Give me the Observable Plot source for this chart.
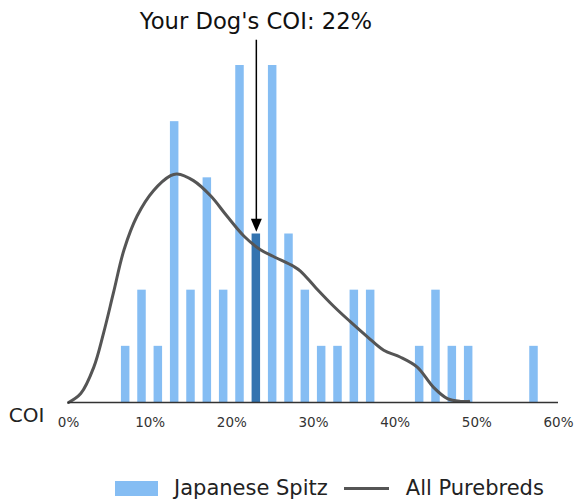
<!DOCTYPE html>
<html>
<head>
<meta charset="utf-8">
<script src="https://cdn.jsdelivr.net/npm/d3@7"></script>
<script src="https://cdn.jsdelivr.net/npm/@observablehq/plot@0.6"></script>
<style>
  body { margin: 0; background: #fff; font-family: "DejaVu Sans", sans-serif; }
  #wrap { position: relative; width: 579px; height: 502px; }
  #title { position: absolute; top: 10px; left: 256px; transform: translateX(-50%); font-size: 22.7px; line-height: 1; color: #111; white-space: nowrap; }
  #chart { position: absolute; top: 38px; left: 0; }
  #legend { position: absolute; top: 478px; left: 115px; display: flex; align-items: center; font-size: 21px; line-height: 1; color: #222; white-space: nowrap; }
  .sw { width: 43px; height: 15px; background: #85bdf3; margin-right: 16px; }
  .ln { width: 45px; height: 3px; background: #555; margin: 0 17px 0 16px; }
</style>
</head>
<body>
<div id="wrap">
  <div id="title">Your Dog's COI: 22%</div>
  <div id="chart"></div>
  <div id="legend"><div class="sw"></div><span>Japanese Spitz</span><div class="ln"></div><span>All Purebreds</span></div>
</div>
<script>
// Japanese Spitz histogram (bin centres in %, counts)
const binCenters = [7, 9, 11, 13, 15, 17, 19, 21, 23, 25, 27, 29, 31, 33, 35, 37, 43, 45, 47, 49, 57];
const binCounts  = [1, 2, 1, 5, 2, 4, 2, 6, 3, 6, 3, 2, 1, 1, 2, 2, 1, 2, 1, 1, 1];
const dogCOI = 22;
const dogBin = 23;
// All purebreds density curve (scaled to the count axis)
const curveX = [0, 1.5, 3.1, 4.3, 5.5, 6.8, 8.4, 10.4, 12.5, 13.3, 15.3, 17.4, 19.4, 21.5, 23.5, 25.1, 27.6, 28.4, 30.3, 32.5, 34.5, 36.6, 38.6, 40.6, 42.7, 44.7, 46.4, 48, 49];
const curveY = [0, 0.16, 0.63, 1.24, 1.95, 2.72, 3.32, 3.77, 4.04, 4.07, 3.95, 3.68, 3.32, 2.96, 2.72, 2.60, 2.42, 2.34, 2.04, 1.71, 1.44, 1.17, 0.93, 0.81, 0.63, 0.27, 0.07, 0.02, 0.02];
const xTicks = [0, 10, 20, 30, 40, 50, 60];

const binW = 0.52;
const bars = binCenters.map((c, i) => ({x1: c - binW, x2: c + binW, y: binCounts[i], dog: c === dogBin}));
const curve = curveX.map((x, i) => ({x, y: curveY[i]}));

const arrowHead = {
  draw(ctx) { ctx.moveTo(-5.5, -13); ctx.lineTo(5.5, -13); ctx.lineTo(0, 0); ctx.closePath(); }
};
const dogCount = binCounts[binCenters.indexOf(dogBin)];

const chart = Plot.plot({
  width: 579,
  height: 407,
  marginLeft: 68,
  marginRight: 21,
  marginTop: 27,
  marginBottom: 43,
  style: {fontFamily: "DejaVu Sans, sans-serif", fontSize: "13.5px", color: "#333", background: "#fff"},
  x: {domain: [0, 60], axis: null},
  y: {domain: [0, 6], axis: null},
  marks: [
    Plot.rectY(bars, {x1: "x1", x2: "x2", y: "y", fill: d => d.dog ? "#3474b0" : "#85bdf3", insetLeft: 0, insetRight: 0}),
    Plot.line(curve, {x: "x", y: "y", stroke: "#555", strokeWidth: 3, curve: "catmull-rom"}),
    Plot.ruleY([0], {stroke: "#333", strokeWidth: 1.5}),
    Plot.axisX({ticks: xTicks, tickFormat: d => d + "%", tickSize: 0, tickPadding: 15, fontSize: 13.5, color: "#333"}),
    Plot.text(["COI"], {frameAnchor: "bottom-left", dx: -59.7, dy: 19.6, textAnchor: "start", fontSize: 20, fill: "#222"}),
    Plot.ruleX([dogBin], {y1: dogCount + 0.2, y2: 6.45, stroke: "#000", strokeWidth: 1.5}),
    Plot.dot([dogBin], {x: d => d, y: dogCount + 0.04, symbol: arrowHead, fill: "#000", stroke: null, r: 5})
  ]
});
document.getElementById("chart").appendChild(chart);
</script>
</body>
</html>
